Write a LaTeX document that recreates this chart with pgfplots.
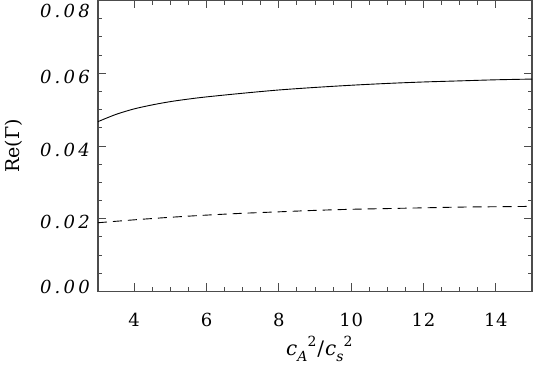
\documentclass[border=0pt]{standalone}
\usepackage{pgfplots}
\pgfplotsset{compat=1.18}
\usepackage{fontspec}
\setmainfont{DejaVu Serif}
\newfontfamily\tickfont[LetterSpace=18]{DejaVu Serif}
\newfontfamily\xtickfont[LetterSpace=4]{DejaVu Serif}
\begin{document}
\begin{tikzpicture}
\begin{axis}[
 width=434pt, height=291pt, scale only axis,
 xmin=3, xmax=15, ymin=0, ymax=0.08,
 xtick={4,6,8,10,12,14}, minor x tick num=3,
 ytick={0,0.02,0.04,0.06,0.08}, minor y tick num=3,
 yticklabels={},
 scaled y ticks=false,
 tick align=inside, major tick length=8pt, minor tick length=4.5pt,
 axis line style={black!70, line width=1.1pt},
 every tick/.style={black!70, line width=0.9pt},
 xticklabel style={/pgf/number format/assume math mode=true, font=\xtickfont\fontsize{18}{20}\selectfont, yshift=-18pt},
 ylabel={Re(Γ)},
 ylabel style={at={(axis description cs:-0.195,0.5)}, anchor=center, font=\fontsize{19}{22}\selectfont},
 xlabel={\textit{c}\raisebox{-0.55ex}{\fontsize{14}{16}\selectfont\textit{A}}\raisebox{0.9ex}{\fontsize{14}{16}\selectfont 2}\hspace{1pt}/\hspace{1pt}\textit{c}\raisebox{-0.55ex}{\fontsize{14}{16}\selectfont\textit{s}}\raisebox{0.9ex}{\fontsize{14}{16}\selectfont 2}},
 xlabel style={at={(axis description cs:0.51,-0.196)}, anchor=center, font=\fontsize{20}{22}\selectfont},
 clip=false,
]
\addplot[black, line width=0.9pt, smooth] coordinates {
(3,0.0467) (3.5,0.0487) (4,0.0502) (4.5,0.0513) (5,0.0522) (5.5,0.0529) (6,0.0535) (7,0.0545) (8,0.0554) (9,0.0561) (10,0.0567) (11,0.0572) (12,0.0576) (13,0.0579) (14,0.0582) (15,0.0584)};
\addplot[black, line width=0.9pt, smooth, dash pattern=on 9pt off 6pt] coordinates {
(3,0.0189) (4,0.0197) (5,0.0204) (6,0.0210) (7,0.0215) (8,0.0219) (9,0.0223) (10,0.0226) (11,0.0228) (12,0.0230) (13,0.0232) (14,0.0233) (15,0.0234)};
\begin{scope}[every node/.style={anchor=east, font=\tickfont\fontsize{18}{20}\selectfont\itshape, inner sep=0pt}]
\node at ([xshift=-8pt,yshift=5pt]rel axis cs:0,0) {0.00};
\node at ([xshift=-8pt,yshift=-3.5pt]rel axis cs:0,0.25) {0.02};
\node at ([xshift=-8pt,yshift=-3.5pt]rel axis cs:0,0.5) {0.04};
\node at ([xshift=-8pt,yshift=-3.5pt]rel axis cs:0,0.75) {0.06};
\node at ([xshift=-8pt,yshift=-10.5pt]rel axis cs:0,1) {0.08};
\end{scope}
\end{axis}
\pgfresetboundingbox
\path (current axis.south west) ++(-98pt,-73pt) rectangle ([xshift=1pt,yshift=0.5pt]current axis.north east);
\end{tikzpicture}
\end{document}
